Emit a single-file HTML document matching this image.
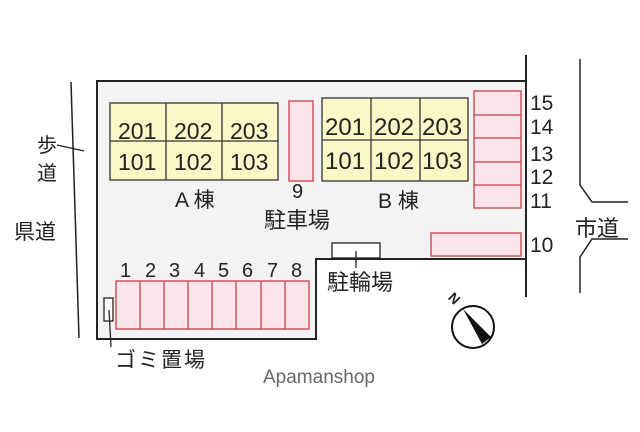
<!DOCTYPE html>
<html><head><meta charset="utf-8"><style>
body{margin:0;background:#fff}
svg text{font-family:"Liberation Sans","Noto Sans CJK JP",sans-serif;fill:#222}
</style></head><body>
<svg width="640" height="427" viewBox="0 0 640 427" xmlns="http://www.w3.org/2000/svg">
<rect width="640" height="427" fill="#fff"/>
<polygon points="97,81 526,81 526,259 316,259 316,339 97,339" fill="#f3f3f3" stroke="#222" stroke-width="2"/>
<line x1="526" y1="55" x2="526" y2="297" stroke="#222" stroke-width="2"/>
<line x1="71" y1="82" x2="79" y2="338" stroke="#222" stroke-width="1.5"/>
<line x1="57" y1="145" x2="84" y2="151" stroke="#222" stroke-width="1.3"/>
<text x="37" y="152" font-size="20">歩</text>
<text x="37" y="180" font-size="20">道</text>
<text x="14" y="239" font-size="21">県道</text>
<polyline points="580,59 580,185 592,202 628,202" fill="none" stroke="#222" stroke-width="1.5"/>
<polyline points="628,239 592,239 580,257 580,293" fill="none" stroke="#222" stroke-width="1.5"/>
<text x="575" y="236" font-size="22">市道</text>
<g fill="#fbf8c8" stroke="#333" stroke-width="1.3">
<rect x="110" y="103" width="168" height="77"/>
<line x1="110" y1="141" x2="278" y2="141"/><line x1="166" y1="103" x2="166" y2="180"/><line x1="222" y1="103" x2="222" y2="180"/>
<rect x="322" y="98" width="146" height="83"/>
<line x1="322" y1="140" x2="468" y2="140"/><line x1="371" y1="98" x2="371" y2="181"/><line x1="420" y1="98" x2="420" y2="181"/>
</g>
<g font-size="23">
<text x="118" y="139">201</text><text x="174" y="139">202</text><text x="230" y="139">203</text>
<text x="118" y="170">101</text><text x="174" y="170">102</text><text x="230" y="170">103</text>
</g>
<g font-size="24">
<text x="325" y="135">201</text><text x="374" y="135">202</text><text x="422" y="135">203</text>
<text x="325" y="169">101</text><text x="374" y="169">102</text><text x="422" y="169">103</text>
</g>
<text x="175" y="207" font-size="21">A 棟</text>
<text x="378" y="208" font-size="21">B 棟</text>
<g fill="#fde3ea" stroke="#c8404a" stroke-width="1.3">
<rect x="289" y="101" width="24" height="80"/>
<rect x="474" y="91" width="47" height="117"/>
<line x1="474" y1="115" x2="521" y2="115"/><line x1="474" y1="138" x2="521" y2="138"/><line x1="474" y1="162" x2="521" y2="162"/><line x1="474" y1="185" x2="521" y2="185"/>
<rect x="431" y="233" width="90" height="23"/>
<rect x="116" y="281" width="193" height="48"/>
<line x1="140" y1="281" x2="140" y2="329"/><line x1="164" y1="281" x2="164" y2="329"/><line x1="188" y1="281" x2="188" y2="329"/><line x1="212" y1="281" x2="212" y2="329"/><line x1="236" y1="281" x2="236" y2="329"/><line x1="261" y1="281" x2="261" y2="329"/><line x1="285" y1="281" x2="285" y2="329"/>
</g>
<text x="292" y="198" font-size="20">9</text>
<text x="264" y="228" font-size="22">駐車場</text>
<g font-size="21">
<text x="530" y="110">15</text><text x="530" y="134">14</text><text x="530" y="161">13</text><text x="530" y="184">12</text><text x="530" y="208">11</text><text x="530" y="252">10</text>
</g>
<g font-size="20">
<text x="120" y="277">1</text><text x="145" y="277">2</text><text x="169" y="277">3</text><text x="194" y="277">4</text><text x="218" y="277">5</text><text x="242" y="277">6</text><text x="267" y="277">7</text><text x="291" y="277">8</text>
</g>
<rect x="332" y="243" width="48" height="15" fill="#fff" stroke="#222" stroke-width="1.3"/>
<line x1="356" y1="251" x2="356" y2="268" stroke="#222" stroke-width="1.3"/>
<text x="327" y="290" font-size="22">駐輪場</text>
<rect x="104" y="298" width="9" height="23" fill="#fff" stroke="#222" stroke-width="1.3"/>
<line x1="109" y1="310" x2="111" y2="347" stroke="#222" stroke-width="1.3"/>
<text x="115" y="367" font-size="21" letter-spacing="2">ゴミ置場</text>
<circle cx="473" cy="327" r="21" fill="#fff" stroke="#111" stroke-width="2"/>
<polygon points="463,309 491,337 482,344" fill="#111"/>
<text x="449" y="304" font-size="14" transform="rotate(45 455 299)" style="font-weight:bold">N</text>
<text x="263" y="383" font-size="19" style="fill:#666">Apamanshop</text>
</svg>
</body></html>
